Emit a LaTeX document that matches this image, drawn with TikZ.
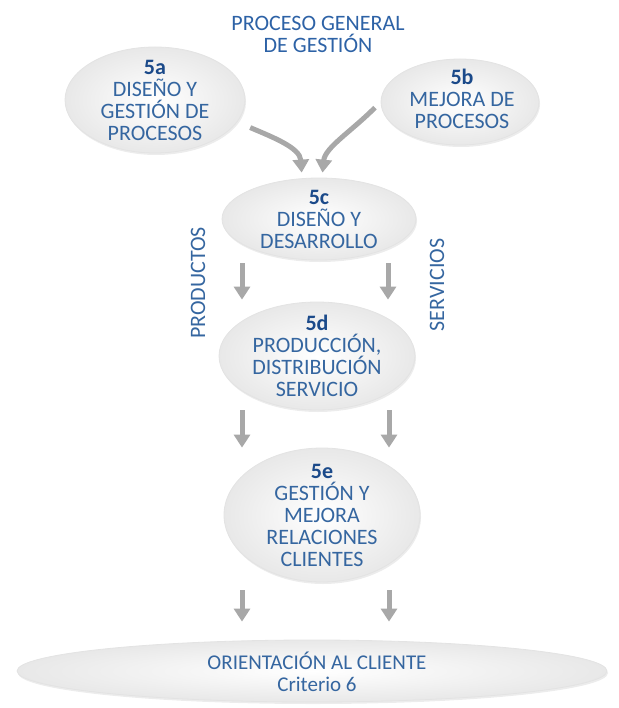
\documentclass[tikz,border=0pt]{standalone}
\usepackage{fontspec}
\setmainfont{Carlito}
\usepackage{xcolor}
\usepackage{tikz}
\usetikzlibrary{shapes.geometric,arrows.meta,shadows}

\definecolor{azul}{HTML}{3566A0}
\definecolor{azultit}{HTML}{2D62A6}
\definecolor{azulnum}{HTML}{1B4A8A}
\definecolor{grisflecha}{HTML}{A8A8A8}

\begin{document}
\begin{tikzpicture}[x=1pt,y=-1pt,
    proc/.style={ellipse,draw=gray!22,line width=0.8pt,inner color=white,outer color=gray!18,
        drop shadow={opacity=0.15,shadow xshift=1pt,shadow yshift=-2pt}},
    txt/.style={align=center,text=azul,font=\fontsize{22}{22}\selectfont},
    flecha/.style={draw=grisflecha,line width=5pt,-{Triangle[width=16pt,length=13pt]}}]
    \useasboundingbox (0,0) rectangle (618,708);
    %
    \node[txt,text=azultit] (tit) at (318,34) {PROCESO GENERAL\\DE GESTIÓN};
    %
    \node[proc,minimum width=180,minimum height=106] (p5a) at (155,100) {};
    \node[proc,minimum width=158,minimum height=86] (p5b) at (460,102) {};
    \node[proc,minimum width=194,minimum height=82] (p5c) at (319,219) {};
    \node[proc,minimum width=196,minimum height=108] (p5d) at (317,356) {};
    \node[proc,minimum width=196,minimum height=134] (p5e) at (322,515) {};
    \node[proc,minimum width=590,minimum height=62] (pfin) at (312,671) {};
    %
    \node[txt] (t5a) at (p5a) {{\bfseries\color{azulnum}5a}\\DISEÑO Y\\GESTIÓN DE\\PROCESOS};
    \node[txt] (t5b) at (462,99) {{\bfseries\color{azulnum}5b}\\MEJORA DE\\PROCESOS};
    \node[txt] (t5c) at (p5c) {{\bfseries\color{azulnum}5c}\\DISEÑO Y\\DESARROLLO};
    \node[txt] (t5d) at (p5d) {{\bfseries\color{azulnum}5d}\\PRODUCCIÓN,\\DISTRIBUCIÓN\\SERVICIO};
    \node[txt] (t5e) at (p5e) {{\bfseries\color{azulnum}5e}\\GESTIÓN Y\\MEJORA\\RELACIONES\\CLIENTES};
    \node[txt,font=\fontsize{21}{21.5}\selectfont] (tfin) at (317,672) {ORIENTACIÓN AL CLIENTE\\Criterio 6};
    %
    \node[txt,rotate=90] (prod) at (198,283) {PRODUCTOS};
    \node[txt,rotate=90] (serv) at (437,285) {SERVICIOS};
    %
    \draw[flecha,shorten <=14pt,shorten >=5pt] (p5a.-15) .. controls +(35,15) and +(-2,-30) .. ([xshift=-17pt]p5c.north);
    \draw[flecha,shorten <=8pt,shorten >=5pt] (p5b.west) .. controls +(-30,30) and +(3,-30) .. ([xshift=3pt]p5c.north);
    %
    \draw[flecha,shorten <=3pt,shorten >=2pt] ([xshift=-77pt]p5c.south) -- ([xshift=-75pt]p5d.north);
    \draw[flecha,shorten <=3pt,shorten >=2pt] ([xshift=69pt]p5c.south) -- ([xshift=71pt]p5d.north);
    \draw[flecha] ([xshift=-75pt]p5d.south) -- ([xshift=-80pt]p5e.north);
    \draw[flecha] ([xshift=72pt]p5d.south) -- ([xshift=67pt]p5e.north);
    \draw[flecha,shorten <=8pt,shorten >=18pt] ([xshift=-80pt]p5e.south) -- ([xshift=-70pt]pfin.north);
    \draw[flecha,shorten <=8pt,shorten >=18pt] ([xshift=67pt]p5e.south) -- ([xshift=77pt]pfin.north);
    %
\end{tikzpicture}
\end{document}
